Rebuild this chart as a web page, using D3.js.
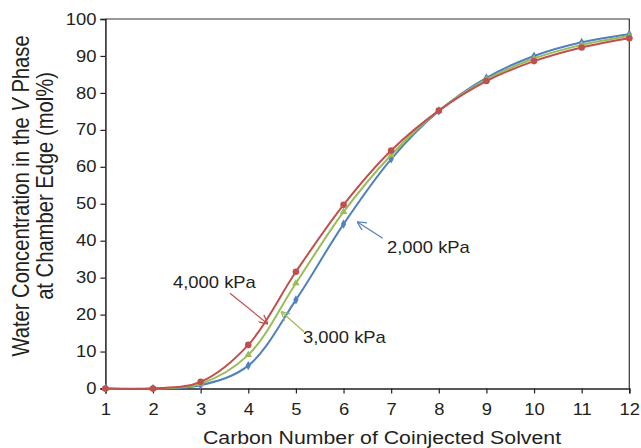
<!DOCTYPE html>
<html>
<head>
<meta charset="utf-8">
<script src="https://cdn.jsdelivr.net/npm/d3@7"></script>
<style>
  html, body { margin: 0; padding: 0; background: #fff; }
  svg { display: block; font-family: "Liberation Sans", Arial, Helvetica, sans-serif; }
</style>
</head>
<body>
<svg id="chart" width="641" height="448"></svg>
<script>
// Carbon number of the coinjected solvent (x axis)
const carbonNumbers = [1, 2, 3, 4, 5, 6, 7, 8, 9, 10, 11, 12];

// Water concentration in the V phase at the chamber edge (mol%)
const water2000 = [0, 0, 0.9, 6.2, 24.0, 44.5, 62.1, 75.1, 84.1, 90.0, 93.7, 95.9];
const water3000 = [0, 0, 1.3, 9.1, 28.5, 47.8, 63.2, 75.2, 83.6, 89.3, 93.0, 95.4];
const water4000 = [0, 0, 1.8, 11.8, 31.6, 49.7, 64.4, 75.2, 83.2, 88.6, 92.3, 94.8];

const yTicks = [0, 10, 20, 30, 40, 50, 60, 70, 80, 90, 100];

const seriesNames = ["2,000 kPa", "3,000 kPa", "4,000 kPa"];

const svg = d3.select("#chart");
const plotLeft = 105.4, plotRight = 629.3, plotTop = 19, plotBottom = 388.5;
const textStretch = 1.15;   // text is set slightly wide
const ink = "#231f20";

const x = d3.scaleLinear().domain([1, 12]).range([plotLeft, plotRight]);
const y = d3.scaleLinear().domain([0, 100]).range([plotBottom, plotTop]);

// frame (top and right edges)
svg.append("path")
  .attr("d", `M${plotLeft},${plotTop}H${plotRight}V${plotBottom}`)
  .attr("fill", "none").attr("stroke", "#333").attr("stroke-width", 1.2);

// y axis
const yAxis = svg.append("g")
  .attr("transform", `translate(${plotLeft},0)`)
  .call(d3.axisLeft(y).tickValues(yTicks).tickSize(5).tickPadding(4));
// x axis
const xAxis = svg.append("g")
  .attr("transform", `translate(0,${plotBottom})`)
  .call(d3.axisBottom(x).tickValues(carbonNumbers).tickSize(5).tickPadding(10));

[yAxis, xAxis].forEach(g => {
  g.select(".domain").attr("stroke", ink).attr("stroke-width", 1.5);
  g.selectAll(".tick line").attr("stroke", ink).attr("stroke-width", 1.2);
  g.selectAll(".tick text")
    .attr("fill", ink)
    .style("font-size", "16px")
    .style("font-family", "'Liberation Sans', Arial, sans-serif")
    .each(function () {
      const t = d3.select(this);
      const x0 = +t.attr("x") || 0;
      t.attr("x", x0 / textStretch).attr("transform", `scale(${textStretch},1)`);
    });
});
xAxis.selectAll(".tick text").attr("dy", "0.71em");

// axis titles
svg.append("text")
  .attr("transform", `translate(382,444) scale(${textStretch},1)`)
  .attr("text-anchor", "middle")
  .attr("fill", ink)
  .style("font-size", "18.5px")
  .text("Carbon Number of Coinjected Solvent");

const yTitle = svg.append("text")
  .attr("transform", `scale(${textStretch},1) rotate(-90)`)
  .attr("text-anchor", "middle")
  .attr("fill", ink)
  .style("font-size", "20.2px");
const t1 = yTitle.append("tspan").attr("x", -196).attr("y", 29 / textStretch);
t1.append("tspan").text("Water Concentration in the ");
t1.append("tspan").style("font-style", "italic").text("V");
t1.append("tspan").text(" Phase");
yTitle.append("tspan").attr("x", -186).attr("y", 53 / textStretch).text("at Chamber Edge (mol%)");

// series lines
const series = [
  { name: seriesNames[0], values: water2000, color: "#4f81bd", marker: d3.symbolDiamond, size: 24 },
  { name: seriesNames[1], values: water3000, color: "#9bbb59", marker: d3.symbolTriangle, size: 24 },
  { name: seriesNames[2], values: water4000, color: "#c0504d", marker: d3.symbolCircle, size: 34 }
];

const line = d3.line()
  .x((d, i) => x(carbonNumbers[i]))
  .y(d => y(d))
  .curve(d3.curveCatmullRom.alpha(0.5));

series.forEach(s => {
  svg.append("path")
    .datum(s.values)
    .attr("d", line)
    .attr("fill", "none")
    .attr("stroke", s.color)
    .attr("stroke-width", 2);
  svg.append("g").selectAll("path")
    .data(s.values)
    .join("path")
    .attr("transform", (d, i) => `translate(${x(carbonNumbers[i])},${y(d)})`)
    .attr("d", d3.symbol().type(s.marker).size(s.size))
    .attr("fill", s.color);
});

// callout labels with arrows
const defs = svg.append("defs");
series.forEach((s, i) => {
  defs.append("marker")
    .attr("id", "arrow" + i)
    .attr("viewBox", "0 0 10 10")
    .attr("refX", 9).attr("refY", 5)
    .attr("markerWidth", 9).attr("markerHeight", 9)
    .attr("markerUnits", "userSpaceOnUse")
    .attr("orient", "auto")
    .append("path")
    .attr("d", "M0,0 L10,5 L0,10")
    .attr("fill", "none")
    .attr("stroke", s.color)
    .attr("stroke-width", 1.4);
});

const callouts = [
  { s: 0, tx: 387, ty: 252.7, x1: 382.7, y1: 238.3, cx: 6.3, cy: 45 },
  { s: 1, tx: 303, ty: 342.7, x1: 304, y1: 331.7, cx: 4.7, cy: 20.7 },
  { s: 2, tx: 173, ty: 287.7, x1: 230, y1: 293.3, cx: 4.4, cy: 17.6 }
];

callouts.forEach(c => {
  const s = series[c.s];
  svg.append("text")
    .attr("transform", `translate(${c.tx},${c.ty}) scale(${textStretch},1)`)
    .attr("fill", ink)
    .style("font-size", "16px")
    .text(s.name);
  svg.append("line")
    .attr("x1", c.x1).attr("y1", c.y1)
    .attr("x2", x(c.cx)).attr("y2", y(c.cy))
    .attr("stroke", s.color)
    .attr("stroke-width", 1.2)
    .attr("marker-end", `url(#arrow${c.s})`);
});
</script>
</body>
</html>
